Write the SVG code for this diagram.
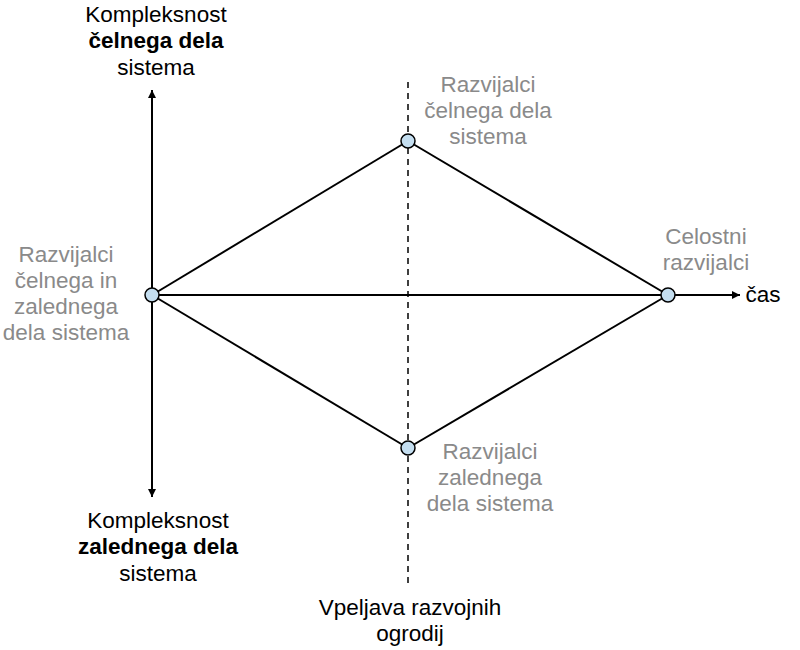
<svg xmlns="http://www.w3.org/2000/svg" width="800" height="650" viewBox="0 0 800 650">
<style>
text{font-family:"Liberation Sans",Arial,sans-serif;font-size:22.5px;text-anchor:middle}
.k{fill:#000}
.g{fill:#8a8a8a}
.b{font-weight:bold}
.ln{stroke:#000;stroke-width:2;fill:none}
.ax{stroke:#000;stroke-width:2;fill:none}
.dash{stroke:#000;stroke-width:1.5;stroke-dasharray:6,5;fill:none}
.nd{fill:#c4def0;stroke:#000;stroke-width:1.5}
</style>
<defs>
<marker id="ah" viewBox="0 0 10 10" refX="10" refY="5" markerWidth="8" markerHeight="8" markerUnits="userSpaceOnUse" orient="auto">
<path d="M0,0 L10,5 L0,10 Z" fill="#000"/>
</marker>
</defs>
<rect width="800" height="650" fill="#fff"/>
<g id="connectors">
<line class="dash" x1="408" y1="82" x2="408" y2="585"/>
<line class="ax" x1="152" y1="295" x2="152" y2="90" marker-end="url(#ah)"/>
<line class="ax" x1="152" y1="295" x2="152" y2="497" marker-end="url(#ah)"/>
<line class="ax" x1="152" y1="295" x2="740" y2="295" marker-end="url(#ah)"/>
<line class="ln" x1="152" y1="295" x2="408" y2="141"/>
<line class="ln" x1="152" y1="295" x2="408" y2="448"/>
<line class="ln" x1="408" y1="141" x2="668" y2="295"/>
<line class="ln" x1="408" y1="448" x2="668" y2="295"/>
</g>
<g id="node-left"><circle class="nd" cx="152" cy="295" r="7"/>
<text class="g" x="66" y="262">Razvijalci</text><text class="g" x="66" y="288">čelnega in</text><text class="g" x="66" y="314">zalednega</text><text class="g" x="66" y="340">dela sistema</text></g>
<g id="node-top"><circle class="nd" cx="408" cy="141" r="7"/>
<text class="g" x="488" y="92">Razvijalci</text><text class="g" x="488" y="118">čelnega dela</text><text class="g" x="488" y="144">sistema</text></g>
<g id="node-bottom"><circle class="nd" cx="408" cy="448" r="7"/>
<text class="g" x="490" y="459">Razvijalci</text><text class="g" x="490" y="485">zalednega</text><text class="g" x="490" y="511">dela sistema</text></g>
<g id="node-right"><circle class="nd" cx="668" cy="295" r="7"/>
<text class="g" x="706" y="244">Celostni</text><text class="g" x="706" y="270">razvijalci</text></g>
<g id="label-top"><text class="k" x="156" y="22">Kompleksnost</text><text class="k b" x="156" y="48">čelnega dela</text><text class="k" x="156" y="75">sistema</text></g>
<g id="label-bottom"><text class="k" x="158" y="528">Kompleksnost</text><text class="k b" x="158" y="554">zalednega dela</text><text class="k" x="158" y="581">sistema</text></g>
<g id="label-time"><text class="k" x="763" y="302">čas</text></g>
<g id="label-frameworks"><text class="k" x="410" y="615">Vpeljava razvojnih</text><text class="k" x="410" y="641">ogrodij</text></g>
</svg>
